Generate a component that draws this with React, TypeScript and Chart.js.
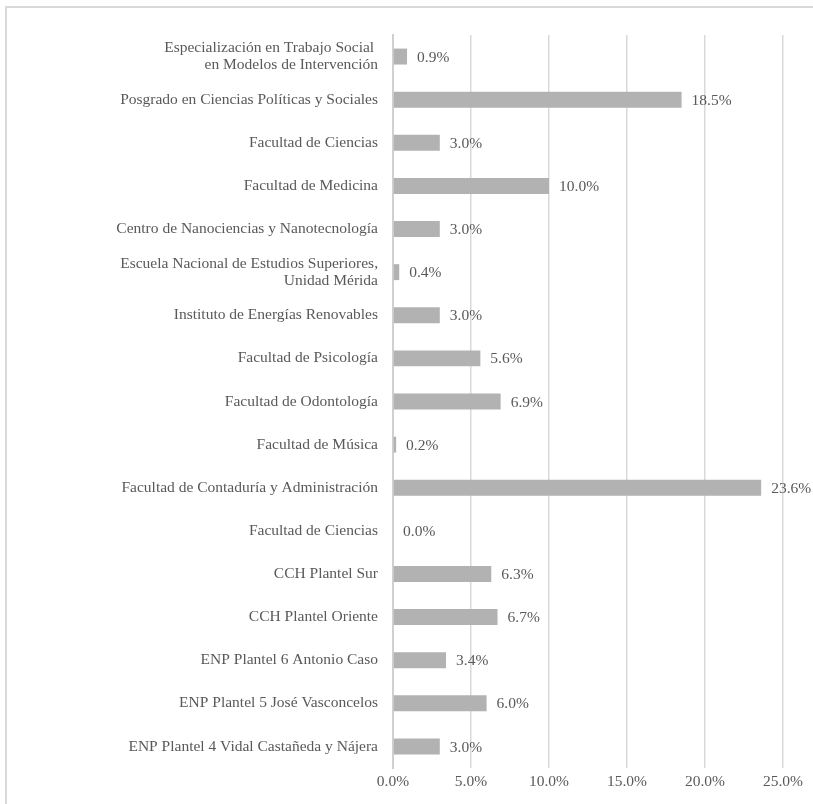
import React, { useEffect, useRef } from "react";
import { Chart, registerables } from "chart.js";

Chart.register(...registerables);

const categories: (string | string[])[] = [
  ["Especialización en Trabajo Social ", "en Modelos de Intervención"],
  "Posgrado en Ciencias Políticas y Sociales",
  "Facultad de Ciencias",
  "Facultad de Medicina",
  "Centro de Nanociencias y Nanotecnología",
  ["Escuela Nacional de Estudios Superiores,", "Unidad Mérida"],
  "Instituto de Energías Renovables",
  "Facultad de Psicología",
  "Facultad de Odontología",
  "Facultad de Música",
  "Facultad de Contaduría y Administración",
  "Facultad de Ciencias",
  "CCH Plantel Sur",
  "CCH Plantel Oriente",
  "ENP Plantel 6 Antonio Caso",
  "ENP Plantel 5 José Vasconcelos",
  "ENP Plantel 4 Vidal Castañeda y Nájera",
];

const percentages: number[] = [
  0.9, 18.5, 3.0, 10.0, 3.0, 0.4, 3.0, 5.6, 6.9, 0.2, 23.6, 0.0, 6.3, 6.7, 3.4, 6.0, 3.0,
];

const xTickMin = 0;
const xTickMax = 25;
const xTickStep = 5;

const FONT = "'Liberation Serif', 'Times New Roman', serif";
const TEXT_COLOR = "#595959";
const FONT_SIZE = 15.5;

const dataLabelPlugin = {
  id: "dataLabels",
  afterDatasetsDraw(chart: any) {
    const ctx = chart.ctx;
    ctx.save();
    ctx.font = `${FONT_SIZE}px ${FONT}`;
    ctx.fillStyle = TEXT_COLOR;
    ctx.textAlign = "left";
    ctx.textBaseline = "middle";
    const meta = chart.getDatasetMeta(0);
    meta.data.forEach((bar: any, i: number) => {
      const v = chart.data.datasets[0].data[i] as number;
      ctx.fillText(v.toFixed(1) + "%", bar.x + 10, bar.y + 1);
    });
    ctx.restore();
  },
};

export default function App() {
  const canvasRef = useRef<HTMLCanvasElement | null>(null);

  useEffect(() => {
    if (!canvasRef.current) return;
    const chart = new Chart(canvasRef.current, {
      type: "bar",
      data: {
        labels: categories,
        datasets: [
          {
            data: percentages,
            backgroundColor: "#b2b2b2",
            borderWidth: 0,
            categoryPercentage: 1,
            barPercentage: 0.37,
          },
        ],
      },
      options: {
        indexAxis: "y",
        responsive: false,
        animation: false,
        layout: { padding: { top: 35, right: 30, bottom: 0, left: 0 } },
        plugins: {
          legend: { display: false },
          tooltip: { enabled: false },
        },
        scales: {
          x: {
            min: xTickMin,
            max: xTickMax,
            position: "bottom",
            border: { display: false },
            grid: {
              color: "#d9d9d9",
              lineWidth: 1.5,
              drawTicks: false,
            },
            ticks: {
              stepSize: xTickStep,
              padding: 5,
              color: TEXT_COLOR,
              font: { family: FONT, size: FONT_SIZE },
              callback: (v: any) => Number(v).toFixed(1) + "%",
            },
            afterFit: (scale: any) => {
              scale.height = 36;
            },
          },
          y: {
            border: { display: true, color: "#d0d0d0", width: 2 },
            grid: { display: false, drawTicks: false },
            ticks: {
              padding: 15,
              color: TEXT_COLOR,
              font: { family: FONT, size: FONT_SIZE, lineHeight: 1.12 },
              autoSkip: false,
            },
            afterFit: (scale: any) => {
              scale.width = 393;
            },
          },
        },
      },
      plugins: [dataLabelPlugin],
    });
    return () => chart.destroy();
  }, []);

  return (
    <div
      style={{
        position: "absolute",
        left: 0,
        top: 0,
        width: 813,
        height: 804,
        overflow: "hidden",
        background: "#ffffff",
      }}
    >
      <div
        style={{
          position: "absolute",
          left: 5,
          top: 6,
          width: 830,
          height: 830,
          border: "2px solid #d9d9d9",
          boxSizing: "border-box",
        }}
      />
      <canvas
        ref={canvasRef}
        width={813}
        height={804}
        style={{ position: "absolute", left: 0, top: 0 }}
      />
    </div>
  );
}
